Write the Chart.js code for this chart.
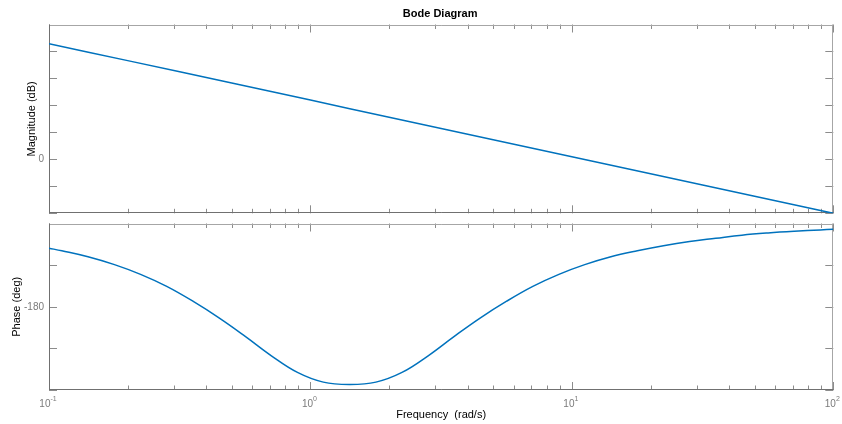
<!DOCTYPE html>
<html><head><meta charset="utf-8">
<script src="https://cdn.jsdelivr.net/npm/chart.js@4/dist/chart.umd.min.js"></script>
<style>
html,body{margin:0;padding:0;background:#fff;overflow:hidden}
#wrap{position:relative;width:842px;height:424px;background:#fff}
canvas{position:absolute;left:0}
</style></head><body>
<div id="wrap">
<canvas id="mag" width="842" height="218" style="top:0px"></canvas>
<canvas id="ph" width="842" height="206" style="top:218px"></canvas>
</div>
<script>
// ---- data ----
const magFrequency = [0.1, 0.2, 0.5, 1, 2, 5, 10, 20, 50, 100];
const magnitudeDb = [42.9, 36.6, 28.3, 22.0, 15.6, 7.3, 1.0, -5.3, -13.7, -20.0];

const phaseFrequency = [0.1, 0.112, 0.141, 0.178, 0.224, 0.282, 0.355, 0.447, 0.563, 0.709, 0.892, 1.12, 1.414, 1.78, 2.24, 2.82, 3.55, 4.47, 5.63, 7.09, 8.92, 11.2, 14.1, 17.8, 22.4, 28.2, 35.5, 44.7, 56.3, 70.9, 89.2, 100];
const phaseDeg = [-116.7, -119.5, -126, -134.5, -145, -158, -174, -192, -212, -233, -251, -261.5, -264, -261.5, -251, -233, -212, -192, -174, -158, -145, -134.5, -126, -119.5, -114, -109.5, -106, -102.6, -100.2, -98.4, -97, -96.2];

const xDecades = [0.1, 1, 10, 100];
const xTickExponents = ['-1', '0', '1', '2'];
const magTicks = [-20, -10, 0, 10, 20, 30, 40, 50];
const magTickLabels = ['', '', '0', '', '', '', '', ''];
const phaseTicks = [-270, -225, -180, -135, -90];
const phaseTickLabels = ['', '', '-180', '', ''];

const LINE_COLOR = '#0072BD';
const FONT = '"Liberation Sans", Arial, Helvetica, sans-serif';

const framePlugin = {
  id: 'bodeFrame',
  beforeDatasetsDraw(chart, args, o) {
    const ctx = chart.ctx, a = chart.chartArea, xs = chart.scales.x, ys = chart.scales.y;
    ctx.save();
    ctx.lineWidth = 1;
    ctx.strokeStyle = '#8c8c8c';
    ctx.beginPath();
    for (let d = 0; d < xDecades.length; d++) {
      const base = xDecades[d];
      const px = Math.round(xs.getPixelForValue(base)) + 0.5;
      ctx.moveTo(px, a.top); ctx.lineTo(px, a.top + 8);
      ctx.moveTo(px, a.bottom); ctx.lineTo(px, a.bottom - 8);
      if (d < xDecades.length - 1) {
        for (let m = 2; m <= 9; m++) {
          const mx = Math.round(xs.getPixelForValue(base * m)) + 0.5;
          ctx.moveTo(mx, a.top); ctx.lineTo(mx, a.top + 4.5);
          ctx.moveTo(mx, a.bottom); ctx.lineTo(mx, a.bottom - 4.5);
        }
      }
    }
    for (const t of o.yTicks) {
      const py = Math.round(ys.getPixelForValue(t)) + 0.5;
      ctx.moveTo(a.left, py); ctx.lineTo(a.left + 8, py);
      ctx.moveTo(a.right, py); ctx.lineTo(a.right - 8, py);
    }
    ctx.stroke();
    ctx.strokeStyle = '#a6a6a6';
    ctx.beginPath();
    ctx.moveTo(a.left, Math.round(a.top) + 0.5); ctx.lineTo(a.right, Math.round(a.top) + 0.5);
    ctx.moveTo(Math.round(a.right) - 0.5, a.top); ctx.lineTo(Math.round(a.right) - 0.5, a.bottom);
    ctx.stroke();
    ctx.strokeStyle = '#707070';
    ctx.beginPath();
    ctx.moveTo(Math.round(a.left) + 0.5, a.top); ctx.lineTo(Math.round(a.left) + 0.5, a.bottom);
    ctx.moveTo(a.left, Math.round(a.bottom) - 0.5); ctx.lineTo(a.right, Math.round(a.bottom) - 0.5);
    ctx.stroke();
    ctx.restore();
  },
  afterDraw(chart, args, o) {
    const ctx = chart.ctx, a = chart.chartArea, xs = chart.scales.x, ys = chart.scales.y;
    ctx.save();
    ctx.fillStyle = '#7a7a7a';
    ctx.font = '10px ' + FONT;
    ctx.textAlign = 'right'; ctx.textBaseline = 'middle';
    o.yTicks.forEach((t, i) => {
      if (o.yLabels[i]) ctx.fillText(o.yLabels[i], a.left - 5, ys.getPixelForValue(t));
    });
    if (o.xLabels) {
      xDecades.forEach((v, i) => {
        const px = xs.getPixelForValue(v);
        ctx.font = '10px ' + FONT;
        const wb = ctx.measureText('10').width;
        ctx.font = '7px ' + FONT;
        const we = ctx.measureText(xTickExponents[i]).width;
        const x0 = px - (wb + we) / 2 - 1;
        ctx.textAlign = 'left'; ctx.textBaseline = 'alphabetic';
        ctx.font = '10px ' + FONT;
        ctx.fillText('10', x0, a.bottom + 17);
        ctx.font = '7px ' + FONT;
        ctx.fillText(xTickExponents[i], x0 + wb, a.bottom + 11);
      });
      ctx.fillStyle = '#000';
      ctx.font = '11px ' + FONT;
      ctx.textAlign = 'center'; ctx.textBaseline = 'middle';
      ctx.fillText('Frequency  (rad/s)', (a.left + a.right) / 2, a.bottom + 24.5);
    }
    ctx.fillStyle = '#000';
    ctx.font = '11px ' + FONT;
    ctx.textAlign = 'center'; ctx.textBaseline = 'middle';
    ctx.translate(o.yTitleX, (a.top + a.bottom) / 2);
    ctx.rotate(-Math.PI / 2);
    ctx.fillText(o.yTitle, 0, 0);
    ctx.setTransform(1, 0, 0, 1, 0, 0);
    if (o.title) {
      ctx.font = 'bold 11px ' + FONT;
      ctx.textAlign = 'center'; ctx.textBaseline = 'middle';
      ctx.fillText(o.title, (a.left + a.right) / 2 - 1, 14);
    }
    ctx.restore();
  }
};

function makeChart(id, xs, ys, yMin, yMax, padding, frameOpts) {
  return new Chart(document.getElementById(id), {
    type: 'line',
    data: {
      datasets: [{
        data: xs.map((x, i) => ({ x: x, y: ys[i] })),
        borderColor: LINE_COLOR,
        borderWidth: 1.5,
        pointRadius: 0,
        fill: false,
        tension: 0.4
      }]
    },
    options: {
      responsive: false,
      animation: false,
      devicePixelRatio: 1,
      layout: { padding: padding },
      plugins: { legend: { display: false }, tooltip: { enabled: false }, title: { display: false }, bodeFrame: frameOpts },
      scales: {
        x: { type: 'logarithmic', min: 0.1, max: 100, display: false },
        y: { type: 'linear', min: yMin, max: yMax, display: false }
      }
    },
    plugins: [framePlugin]
  });
}

makeChart('mag', magFrequency, magnitudeDb, -20, 50,
  { left: 49, right: 8.7, top: 24.5, bottom: 4.7 },
  { yTicks: magTicks, yLabels: magTickLabels, yTitle: 'Magnitude (dB)', yTitleX: 32, xLabels: false, title: 'Bode Diagram' });

makeChart('ph', phaseFrequency, phaseDeg, -270, -90,
  { left: 49, right: 8.7, top: 5.5, bottom: 34 },
  { yTicks: phaseTicks, yLabels: phaseTickLabels, yTitle: 'Phase (deg)', yTitleX: 16.5, xLabels: true, title: null });
</script>
</body></html>
